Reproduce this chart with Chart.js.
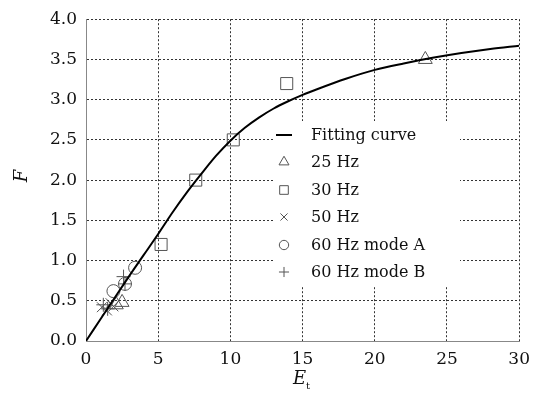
<!DOCTYPE html>
<html>
<head>
<meta charset="utf-8">
<script src="https://cdn.jsdelivr.net/npm/chart.js@4"></script>
<style>
  body { margin: 0; background: #fff; }
  #wrap { width: 538px; height: 396px; }
</style>
</head>
<body>
<div id="wrap"><canvas id="fchart" width="538" height="396"></canvas></div>
<script>
// values
const curveX = [0, 1, 2, 3, 4, 5, 6, 7, 8, 9, 10, 11, 12, 13, 14, 15, 16, 18, 20, 22, 24, 26, 28, 30]
const curveY = [0, 0.27, 0.54, 0.81, 1.07, 1.33, 1.6, 1.85, 2.08, 2.3, 2.49, 2.65, 2.78, 2.89, 2.98, 3.06, 3.13, 3.26, 3.37, 3.45, 3.52, 3.58, 3.63, 3.67]

const hz25X = [23.5, 2.5, 2.1]
const hz25Y = [3.5, 0.48, 0.45]
const hz30X = [5.2, 7.6, 10.2, 13.9]
const hz30Y = [1.2, 2.0, 2.5, 3.2]
const hz50X = [1.1, 1.45, 1.9, 1.7]
const hz50Y = [0.42, 0.38, 0.43, 0.47]
const modeAX = [3.4, 2.7, 1.9]
const modeAY = [0.91, 0.71, 0.62]
const modeBX = [2.6, 2.7, 1.2, 1.5]
const modeBY = [0.8, 0.71, 0.45, 0.4]

const xTicks = [0, 5, 10, 15, 20, 25, 30]
const yTicks = [0, 0.5, 1, 1.5, 2, 2.5, 3, 3.5, 4]

const legendLabels = ['Fitting curve', '25 Hz', '30 Hz', '50 Hz', '60 Hz mode A', '60 Hz mode B']

function pts(xs, ys) {
    return xs.map(function(x, i) { return { x: x, y: ys[i] } })
}

const markColor = '#555'
function markerSet(label, xs, ys, style, r) {
    return {
        label: label,
        data: pts(xs, ys),
        showLine: false,
        pointStyle: style,
        pointRadius: r,
        pointBorderWidth: 1,
        pointBorderColor: markColor,
        pointBackgroundColor: 'rgba(0,0,0,0)',
        borderColor: markColor
    }
}

const datasets = [
    {
        label: legendLabels[0],
        data: pts(curveX, curveY),
        borderColor: '#000',
        borderWidth: 2,
        pointRadius: 0,
        cubicInterpolationMode: 'monotone'
    },
    markerSet(legendLabels[1], hz25X, hz25Y, 'triangle', 8),
    markerSet(legendLabels[2], hz30X, hz30Y, 'rect', 8.5),
    markerSet(legendLabels[3], hz50X, hz50Y, 'crossRot', 7),
    markerSet(legendLabels[4], modeAX, modeAY, 'circle', 6.5),
    markerSet(legendLabels[5], modeBX, modeBY, 'cross', 7)
]

const serif = "'DejaVu Serif', 'Liberation Serif', serif"

// legend box inside the plot + axis titles
const decorPlugin = {
    id: 'decor',
    afterDraw: function(chart) {
        const ctx = chart.ctx
        ctx.save()
        ctx.fillStyle = '#fff'
        ctx.fillRect(273, 121, 187, 165)

        const rowY = [135, 162, 190, 217, 245, 272]
        ctx.font = '16px ' + serif
        ctx.textBaseline = 'middle'
        ctx.textAlign = 'left'
        legendLabels.forEach(function(txt, i) {
            const y = rowY[i]
            if (i == 0) {
                ctx.strokeStyle = '#000'
                ctx.lineWidth = 2
                ctx.beginPath()
                ctx.moveTo(276, y)
                ctx.lineTo(292, y)
                ctx.stroke()
            } else {
                const ds = datasets[i]
                ctx.strokeStyle = markColor
                ctx.fillStyle = 'rgba(0,0,0,0)'
                ctx.lineWidth = 1
                Chart.helpers.drawPoint(ctx, {
                    pointStyle: ds.pointStyle,
                    radius: ds.pointRadius * 0.72,
                    rotation: 0,
                    borderWidth: 1
                }, 284, y)
            }
            ctx.fillStyle = '#111'
            ctx.fillText(txt, 311, y + 1)
        })

        // y title, rotated italic F
        ctx.save()
        ctx.translate(22, 176)
        ctx.rotate(-Math.PI / 2)
        ctx.font = 'italic 18px ' + serif
        ctx.textAlign = 'center'
        ctx.fillText('F', 0, 0)
        ctx.restore()

        // x title E with subscript t
        ctx.font = 'italic 18px ' + serif
        ctx.textAlign = 'left'
        ctx.fillText('E', 293, 379)
        ctx.font = '10px ' + serif
        ctx.fillText('t', 306, 386)
        ctx.restore()
    }
}

new Chart(document.getElementById('fchart'), {
    type: 'line',
    data: { datasets: datasets },
    plugins: [decorPlugin],
    options: {
        responsive: false,
        animation: false,
        devicePixelRatio: 1,
        layout: { padding: { top: 13, right: 14, left: 0, bottom: 0 } },
        plugins: {
            legend: { display: false },
            tooltip: { enabled: false }
        },
        scales: {
            x: {
                type: 'linear',
                min: 0,
                max: 30,
                afterFit: function(scale) { scale.height = 55 },
                afterBuildTicks: function(scale) {
                    scale.ticks = xTicks.map(function(v) { return { value: v } })
                },
                grid: { color: '#333', lineWidth: 1, drawTicks: false },
                border: { color: '#888', dash: [2, 2], width: 1 },
                ticks: {
                    padding: 8,
                    color: '#111',
                    font: { family: serif, size: 17 }
                }
            },
            y: {
                type: 'linear',
                min: 0,
                max: 4,
                afterFit: function(scale) { scale.width = 86 },
                afterBuildTicks: function(scale) {
                    scale.ticks = yTicks.map(function(v) { return { value: v } })
                },
                grid: { color: '#333', lineWidth: 1, drawTicks: false },
                border: { color: '#888', dash: [2, 2], width: 1 },
                ticks: {
                    padding: 9,
                    color: '#111',
                    font: { family: serif, size: 17 },
                    callback: function(v) { return v.toFixed(1) }
                }
            }
        }
    }
})
</script>
</body>
</html>
